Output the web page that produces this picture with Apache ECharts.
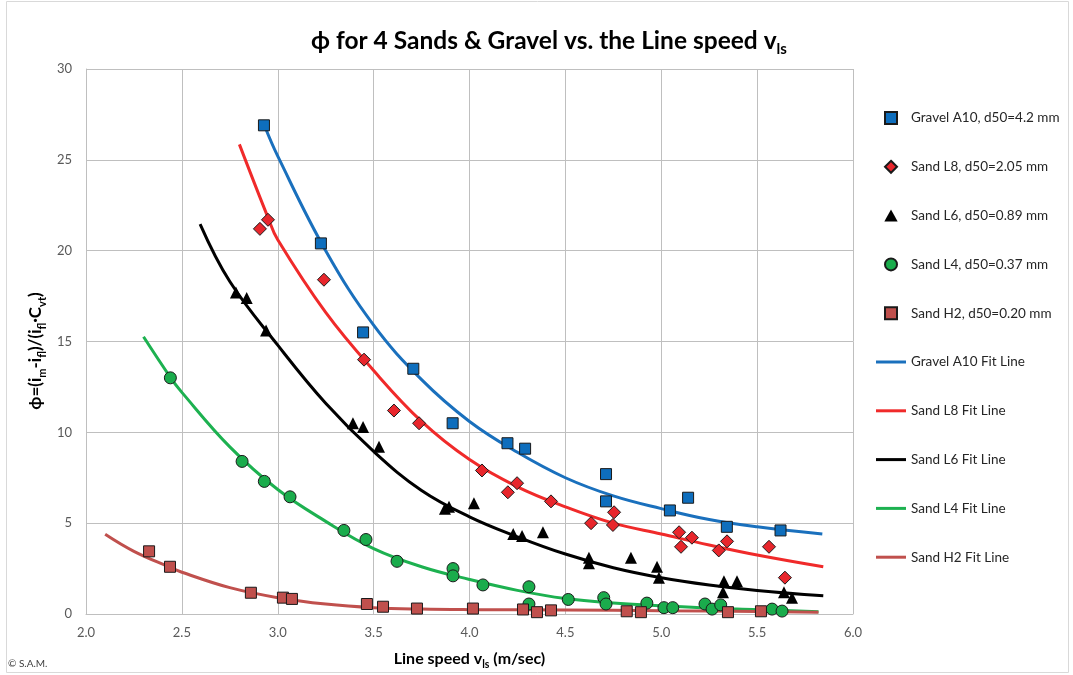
<!DOCTYPE html>
<html>
<head>
<meta charset="utf-8">
<title>phi vs line speed</title>
<script src="https://cdn.jsdelivr.net/npm/echarts@6/dist/echarts.min.js"></script>
<style>
  html, body { margin: 0; padding: 0; background: #fff; }
  #main { width: 1073px; height: 675px; }
</style>
</head>
<body>
<div id="main"></div>
<script>
// measured points [line speed m/s, phi]
var gravelA10 = [[2.928,26.9],[3.225,20.4],[3.445,15.5],[3.707,13.5],[3.912,10.5],[4.198,9.4],[4.29,9.1],[4.712,7.7],[4.712,6.2],[5.045,5.7],[5.14,6.4],[5.342,4.8],[5.622,4.6]];
var sandL8 = [[2.907,21.2],[2.949,21.7],[3.241,18.4],[3.45,14.0],[3.606,11.2],[3.737,10.5],[4.065,7.9],[4.2,6.7],[4.248,7.2],[4.425,6.2],[4.634,5.0],[4.748,4.9],[4.754,5.6],[5.093,4.5],[5.103,3.7],[5.16,4.2],[5.30,3.5],[5.343,4.0],[5.562,3.7],[5.645,2.0]];
var sandL6 = [[2.782,17.7],[2.838,17.4],[2.939,15.6],[3.392,10.5],[3.445,10.3],[3.528,9.2],[3.872,5.8],[3.893,5.9],[4.023,6.1],[4.228,4.4],[4.274,4.3],[4.383,4.5],[4.623,3.1],[4.623,2.8],[4.842,3.1],[4.978,2.6],[4.988,2.0],[5.327,1.8],[5.395,1.8],[5.322,1.2],[5.64,1.2],[5.682,0.9]];
var sandL4 = [[2.44,13.0],[2.814,8.4],[2.93,7.3],[3.064,6.45],[3.345,4.6],[3.46,4.1],[3.622,2.9],[3.914,2.5],[3.914,2.1],[4.07,1.6],[4.31,1.5],[4.31,0.55],[4.515,0.8],[4.70,0.9],[4.712,0.55],[4.925,0.6],[5.014,0.35],[5.06,0.35],[5.228,0.55],[5.265,0.27],[5.31,0.5],[5.578,0.27],[5.63,0.16]];
var sandH2 = [[2.329,3.45],[2.438,2.6],[2.86,1.17],[3.027,0.9],[3.074,0.83],[3.465,0.55],[3.549,0.4],[3.726,0.3],[4.018,0.3],[4.279,0.25],[4.352,0.1],[4.425,0.2],[4.82,0.15],[4.894,0.1],[5.348,0.1],[5.52,0.15]];

// fit lines
var gravelFit = [[2.93,26.9],[3.0,25.2],[3.25,20.0],[3.5,15.9],[3.75,12.9],[4.0,10.6],[4.25,8.9],[4.5,7.5],[4.75,6.5],[5.0,5.8],[5.25,5.2],[5.5,4.8],[5.84,4.4]];
var sandL8Fit = [[2.8,25.85],[2.95,21.8],[3.0,20.6],[3.25,16.6],[3.5,13.4],[3.75,10.6],[4.0,8.5],[4.25,7.0],[4.5,5.9],[4.75,5.0],[5.0,4.4],[5.25,3.8],[5.5,3.25],[5.845,2.6]];
var sandL6Fit = [[2.595,21.46],[2.75,18.3],[3.0,14.8],[3.25,11.6],[3.5,8.95],[3.75,6.8],[4.0,5.35],[4.25,4.25],[4.5,3.3],[4.75,2.55],[5.0,2.0],[5.25,1.6],[5.5,1.3],[5.845,1.0]];
var sandL4Fit = [[2.3,15.26],[2.44,13.03],[2.5,12.2],[2.75,9.2],[3.0,6.85],[3.25,5.1],[3.5,3.6],[3.75,2.6],[4.0,1.9],[4.25,1.3],[4.5,0.85],[4.75,0.6],[5.0,0.45],[5.25,0.32],[5.5,0.24],[5.82,0.12]];
var sandH2Fit = [[2.1,4.39],[2.25,3.45],[2.438,2.57],[2.5,2.3],[2.75,1.45],[3.0,0.9],[3.25,0.55],[3.5,0.35],[3.75,0.27],[4.0,0.24],[4.5,0.22],[5.0,0.18],[5.5,0.14],[5.82,0.1]];

var FONT = 'Lato, "Open Sans", sans-serif';
var GRID = '#bfbfbf';
var LINE_ICON = 'path://M0,0L30,0L30,3L0,3Z';
var NAME_RICH = {
  b: { fontFamily: FONT, fontWeight: 'bold', fontSize: 17, fill: '#000', color: '#000', lineHeight: 23 },
  s: { fontFamily: FONT, fontWeight: 'bold', fontSize: 11, fill: '#000', color: '#000', lineHeight: 12, verticalAlign: 'bottom' }
};

function scatter(name, data, symbol, size, color, border) {
  return {
    name: name, type: 'scatter', data: data, z: 4,
    symbol: symbol, symbolSize: size,
    itemStyle: { color: color, borderColor: border ? '#1a1a1a' : color, borderWidth: border ? 1 : 0, opacity: 1 }
  };
}
function fit(name, data, color) {
  return {
    name: name, type: 'line', data: data, z: 3,
    smooth: 0.4, symbol: 'none',
    lineStyle: { color: color, width: 3 }, itemStyle: { color: color }
  };
}

var chart = echarts.init(document.getElementById('main'));
chart.setOption({
  animation: false,
  textStyle: { fontFamily: FONT },
  title: {
    left: 544, top: 20, textAlign: 'center',
    text: '{a|ϕ for 4 Sands & Gravel vs. the Line speed v}{s|ls}',
    textStyle: {
      rich: {
        a: { fontFamily: FONT, fontWeight: 'bold', fontSize: 24.5, color: '#000', lineHeight: 32 },
        s: { fontFamily: FONT, fontWeight: 'bold', fontSize: 15, color: '#000', lineHeight: 16, verticalAlign: 'bottom' }
      }
    }
  },
  grid: { left: 86, right: 220, top: 69, bottom: 61 },
  legend: {
    orient: 'vertical', left: 871, top: 106,
    itemWidth: 30, itemHeight: 12, itemGap: 34.8,
    textStyle: { fontFamily: FONT, fontSize: 13.5, color: '#262626' },
    data: [
      { name: 'Gravel A10, d50=4.2 mm', icon: 'path://M0,0L10,0L10,10L0,10Z' },
      { name: 'Sand L8, d50=2.05 mm', icon: 'path://M5,0L10,5L5,10L0,5Z' },
      { name: 'Sand L6, d50=0.89 mm', icon: 'path://M5,0L10,9L0,9Z' },
      { name: 'Sand L4, d50=0.37 mm', icon: 'circle' },
      { name: 'Sand H2, d50=0.20 mm', icon: 'path://M0,0L10,0L10,10L0,10Z' },
      { name: 'Gravel A10 Fit Line', icon: LINE_ICON },
      { name: 'Sand L8 Fit Line', icon: LINE_ICON },
      { name: 'Sand L6 Fit Line', icon: LINE_ICON },
      { name: 'Sand L4 Fit Line', icon: LINE_ICON },
      { name: 'Sand H2 Fit Line', icon: LINE_ICON }
    ]
  },
  xAxis: {
    type: 'value', min: 2, max: 6, interval: 0.5,
    name: '{b|Line speed v}{s|ls}{b| (m/sec)}',
    nameLocation: 'middle', nameGap: 34,
    nameTextStyle: {
      rich: {
        b: { fontFamily: FONT, fontWeight: 'bold', fontSize: 16, color: '#000', lineHeight: 22 },
        s: { fontFamily: FONT, fontWeight: 'bold', fontSize: 10.5, color: '#000', lineHeight: 11, verticalAlign: 'bottom' }
      }
    },
    axisLine: { show: true, lineStyle: { color: GRID } },
    axisTick: { show: false },
    axisLabel: { formatter: function (v) { return v.toFixed(1); }, color: '#595959', fontSize: 13, margin: 12, fontFamily: FONT },
    splitLine: { show: true, lineStyle: { color: GRID, width: 1 } }
  },
  yAxis: {
    type: 'value', min: 0, max: 30, interval: 5,
    axisLine: { show: true, lineStyle: { color: GRID } },
    axisTick: { show: false },
    axisLabel: { color: '#595959', fontSize: 13, margin: 14, fontFamily: FONT },
    splitLine: { show: true, lineStyle: { color: GRID, width: 1 } }
  },
  graphic: [
    { type: 'rect', shape: { x: 6.5, y: 1.5, width: 1062, height: 671 }, style: { fill: 'none', stroke: '#d9d9d9', lineWidth: 1 }, silent: true, z: -1 },
    { type: 'text', left: 8, top: 659, style: { text: '© S.A.M.', font: '10px ' + FONT, fill: '#404040' } },
    {
      type: 'text', x: 36, y: 351, rotation: Math.PI / 2,
      style: {
        text: '{b|ϕ=(i}{s|m}{b|-i}{s|fl}{b|)/(i}{s|fl}{b|·C}{s|vt}{b|)}',
        rich: NAME_RICH, align: 'center', verticalAlign: 'middle'
      }
    }
  ],
  series: [
    scatter('Gravel A10, d50=4.2 mm', gravelA10, 'rect', 11, '#0e6ebd', true),
    scatter('Sand L8, d50=2.05 mm', sandL8, 'diamond', 13, '#e8262c', true),
    scatter('Sand L6, d50=0.89 mm', sandL6, 'triangle', 12, '#000000', false),
    scatter('Sand L4, d50=0.37 mm', sandL4, 'circle', 12, '#1aac4c', true),
    scatter('Sand H2, d50=0.20 mm', sandH2, 'rect', 11, '#c0504d', true),
    fit('Gravel A10 Fit Line', gravelFit, '#1a70bd'),
    fit('Sand L8 Fit Line', sandL8Fit, '#f02a2a'),
    fit('Sand L6 Fit Line', sandL6Fit, '#000000'),
    fit('Sand L4 Fit Line', sandL4Fit, '#1db150'),
    fit('Sand H2 Fit Line', sandH2Fit, '#c0504d')
  ]
});
</script>
</body>
</html>
